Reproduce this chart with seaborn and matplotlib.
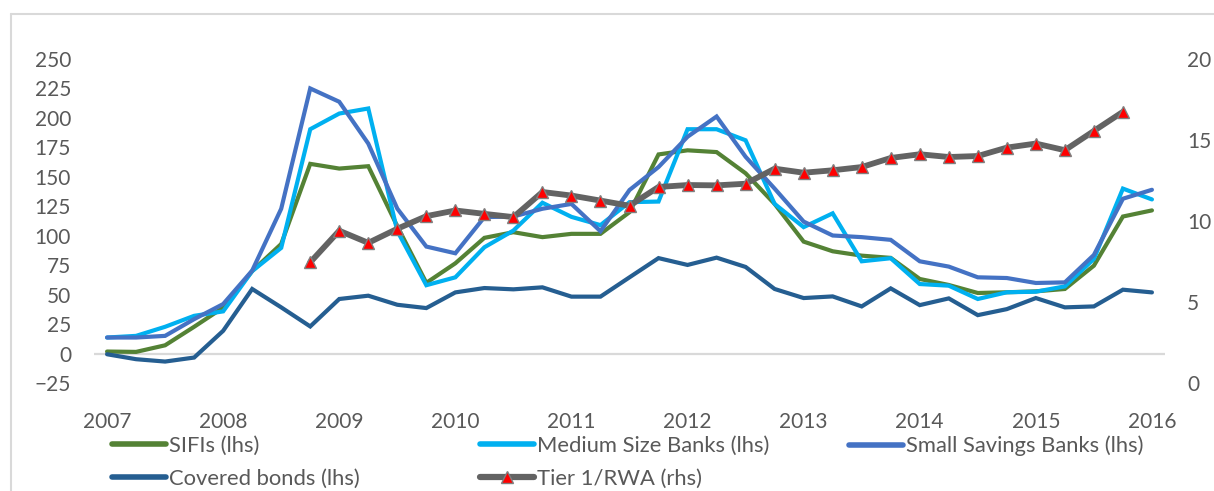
import numpy as np
import pandas as pd
import matplotlib
matplotlib.use("Agg")
import matplotlib.pyplot as plt
from matplotlib.lines import Line2D
import seaborn as sns

# ---------------- data (quarterly, 2007Q1 .. 2016Q1) ----------------
year_labels = ["2007", "2008", "2009", "2010", "2011", "2012", "2013", "2014", "2015", "2016"]

sifis = [1.7, 1.4, 7, 22.7, 39, 70, 93, 161, 157, 159,
         108, 60, 76.6, 98.2, 103, 98.8, 101.6, 101.6, 120, 169,
         172.5, 171, 153, 127, 95, 86.8, 83.1, 81.2, 63.3, 58.2,
         51.4, 52, 52.8, 54.8, 74.6, 116.3, 121.5]
medium = [13.6, 15, 22.7, 32, 35.8, 70, 89.7, 190.4, 203.7, 208,
          104, 58, 64.7, 90.2, 104.4, 128, 116, 109, 128.5, 129,
          190.4, 190.4, 181, 127, 107.3, 119, 78.3, 80.9, 59, 57.6,
          46.3, 52, 52.5, 57, 80.3, 140, 130.8]
small = [13.6, 13.6, 15, 29.2, 42, 70.4, 122.9, 225, 213.7, 178.2,
         123, 90.8, 85.1, 115.8, 116.3, 122.9, 127, 103.8, 138.8, 158.3,
         184, 201.2, 167, 140, 112, 100.2, 98.8, 96.5, 78.3, 73.8,
         64.7, 64.1, 59.9, 60.4, 83.7, 131.4, 139]
covered = [-0.6, -4.8, -6.8, -3.4, 19.3, 54.8, 39.2, 23, 46.3, 49.1,
           41.4, 38.6, 51.9, 55.6, 54.5, 56.2, 48.3, 48.3, 64.7, 81,
           75.2, 81.4, 73.5, 54.8, 47.1, 48.5, 40, 55.3, 41.1, 46.8,
           32.6, 37.7, 47.1, 39.2, 40, 54.2, 51.9]
# Tier 1 / RWA (rhs), available from 2008Q4 to 2015Q4
tier_start = 7
tier1 = [7.45, 9.4, 8.65, 9.52, 10.3, 10.65, 10.44, 10.24, 11.79, 11.57,
         11.26, 10.94, 12.1, 12.22, 12.2, 12.3, 13.23, 12.98, 13.13, 13.33,
         13.89, 14.12, 13.95, 14.01, 14.53, 14.78, 14.37, 15.56, 16.74]

names = ["SIFIs (lhs)", "Medium Size Banks (lhs)", "Small Savings Banks (lhs)",
         "Covered bonds (lhs)", "Tier 1/RWA (rhs)"]
colors = ["#548235", "#00B0F0", "#4472C4", "#255E91", "#636363"]

n = len(sifis)
q = np.arange(n)
df = pd.DataFrame({"q": q, names[0]: sifis, names[1]: medium,
                   names[2]: small, names[3]: covered})
tier_full = [np.nan] * n
for k, v in enumerate(tier1):
    tier_full[tier_start + k] = v
df[names[4]] = tier_full

# ---------------- figure ----------------
sns.set_theme(style="white")
plt.rcParams["font.family"] = ["Lato", "DejaVu Sans"]
W, H = 1214, 491
fig = plt.figure(figsize=(W / 100, H / 100), dpi=100)
ax = fig.add_axes([94 / W, (H - 383) / H, (1165 - 94) / W, (383 - 59) / H])
ax2 = ax.twinx()

lw = 3.0
for nm, c in zip(names[:4], colors[:4]):
    sns.lineplot(data=df, x="q", y=nm, ax=ax, color=c, linewidth=lw,
                 legend=False, solid_capstyle="round", solid_joinstyle="miter")
sns.lineplot(data=df, x="q", y=names[4], ax=ax2, color=colors[4], linewidth=4.2,
             marker="^", markersize=8, markerfacecolor="#FF0000",
             markeredgecolor="#7F7F7F", markeredgewidth=1.0, legend=False)

ax.axhline(0, color="#D9D9D9", linewidth=1.6, zorder=0.5)

ax.set_xlim(-0.45, n - 1 + 0.45)
ax.set_ylim(-25, 250)
ax2.set_ylim(0, 20)
ax.set_yticks(np.arange(-25, 251, 25))
ax2.set_yticks([0, 5, 10, 15, 20])
ax.set_xticks(np.arange(0, n, 4))
ax.set_xticklabels(year_labels)

tick_color = "#595959"
fs = 15
fs_leg = 15.8
for a in (ax, ax2):
    for s in a.spines.values():
        s.set_visible(False)
    a.set_xlabel("")
    a.set_ylabel("")
    a.grid(False)
    a.set_facecolor("none")
ax.tick_params(axis="x", length=0, pad=21, labelsize=fs, labelcolor=tick_color)
ax.tick_params(axis="y", length=0, pad=16.5, labelsize=fs, labelcolor=tick_color)
ax2.tick_params(axis="y", length=0, pad=16, labelsize=fs, labelcolor=tick_color)

# ---------------- legend ----------------
fs_px = fs_leg * 100 / 72
handles = [Line2D([], [], color=c, linewidth=4, solid_capstyle="round") for c in colors[:4]]
handles.append(Line2D([0, 1, 2], [0, 0, 0], color=colors[4], linewidth=4.5, marker="^",
                      markersize=8, markerfacecolor="#FF0000", markeredgecolor="#7F7F7F",
                      markeredgewidth=1.0, markevery=[1]))
pos = [(112, 446), (480, 446), (849, 446), (112, 479), (480, 479)]
for h, nm, (px, py) in zip(handles, names, pos):
    fig.legend(handles=[h], labels=[nm], loc="center left",
               bbox_to_anchor=(px / W, 1 - py / H), frameon=False,
               borderpad=0, borderaxespad=0, handlelength=54 / fs_px,
               handletextpad=3 / fs_px, fontsize=fs_leg, labelcolor="#595959")

# outer light border
fig.add_artist(Line2D([11 / W, 11 / W], [-0.05, 1 - 14 / H], transform=fig.transFigure,
                      color="#D9D9D9", linewidth=1.5))
fig.add_artist(Line2D([11 / W, 1.05], [1 - 14 / H, 1 - 14 / H], transform=fig.transFigure,
                      color="#D9D9D9", linewidth=1.5))

fig.savefig("out.png", dpi=100)
